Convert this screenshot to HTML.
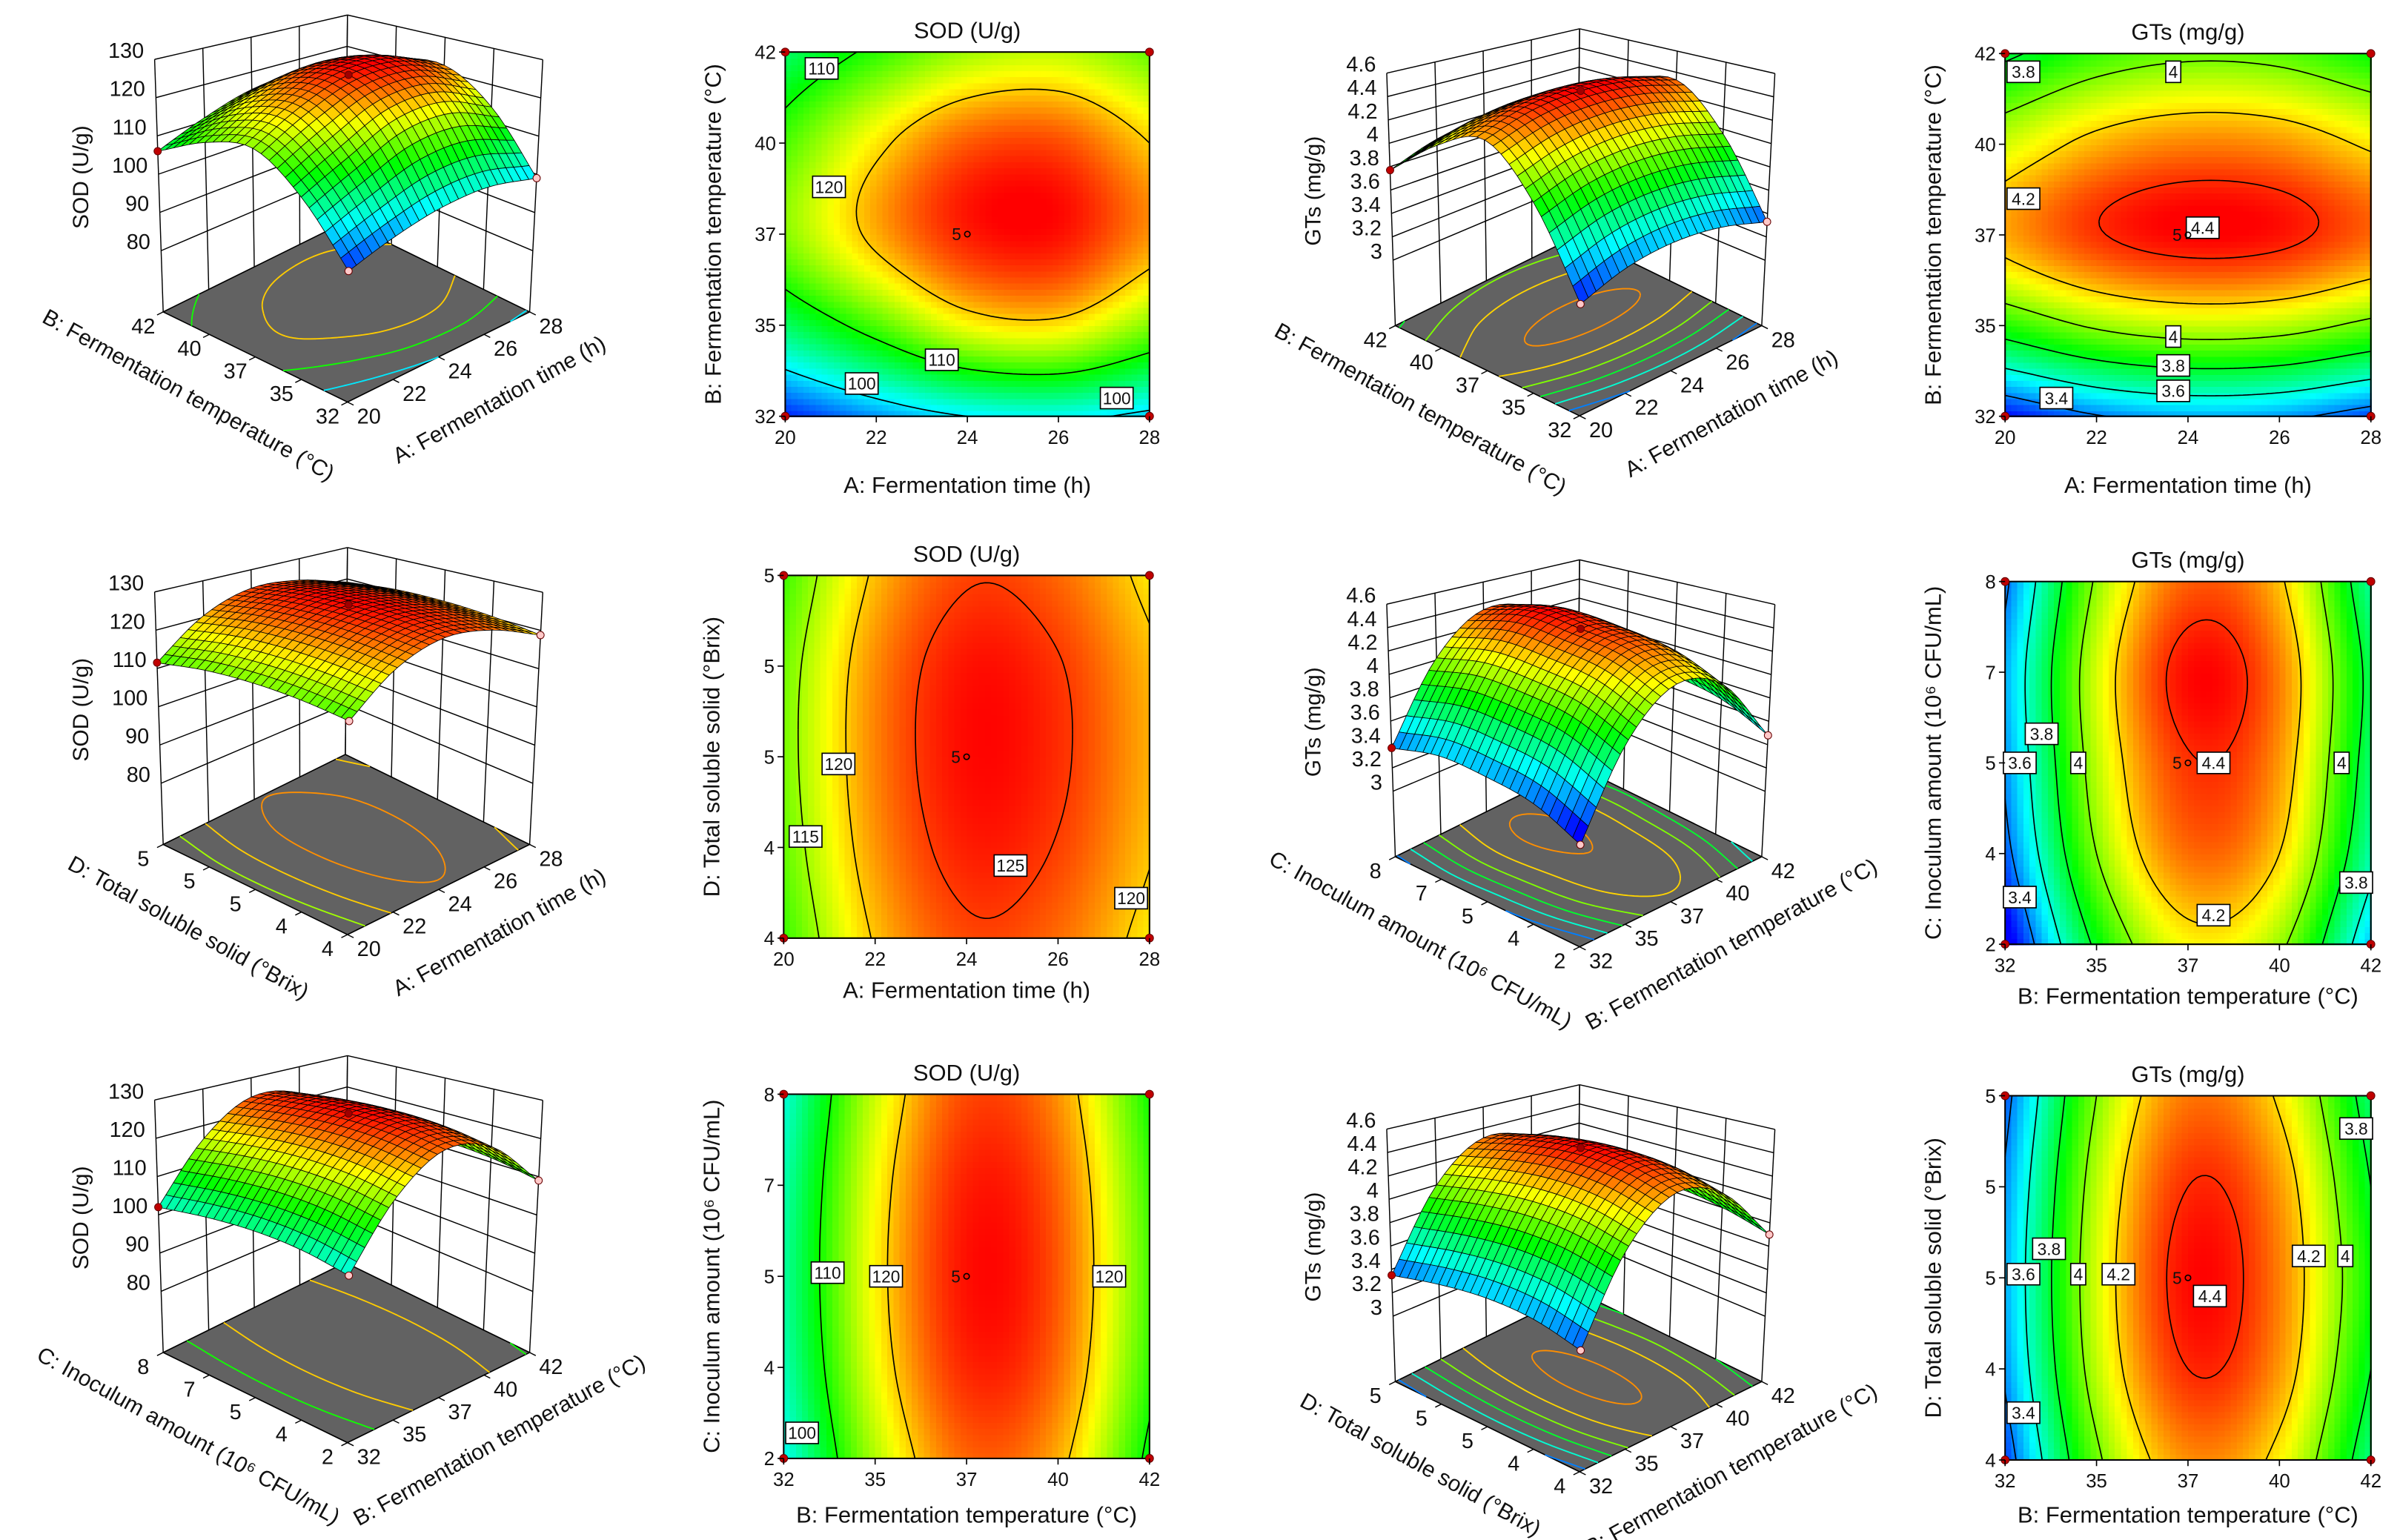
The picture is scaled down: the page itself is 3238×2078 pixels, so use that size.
<!DOCTYPE html>
<html><head><meta charset="utf-8"><title>Response surface plots</title>
<style>
html,body{margin:0;padding:0;background:#fff;}
svg{display:block;}
text{font-family:"Liberation Sans",Arial,sans-serif;fill:#111;}
.tk{font-family:"Liberation Sans Narrow","Liberation Sans",sans-serif;font-size:12.5px;}
.zt{font-family:"Liberation Sans Narrow","Liberation Sans",sans-serif;font-size:14px;}
.ax{font-size:15px;}
.ax3{font-size:14.5px;}
.cl{font-family:"Liberation Sans Narrow","Liberation Sans",sans-serif;font-size:11px;}
</style></head>
<body>
<svg id="fig" xmlns="http://www.w3.org/2000/svg" width="3238" height="2078" viewBox="0 0 1568 1006.3"></svg>
<script>
// ---------- data (grid rows: y from min to max; columns: x from min to max) ----------
const ticksA = ['20','22','24','26','28'];
const ticksB = ['32','35','37','40','42'];
const ticksC = ['2','4','5','7','8'];
const ticksD = ['4','4','5','5','5'];
const sodZTicks = [80,90,100,110,120,130];
const gtsZTicks = [3,3.2,3.4,3.6,3.8,4,4.2,4.4,4.6];

const sodABValues = [
  [93,97,100,101,99],
  [106,112,118,119,114],
  [114,121,126,126.5,122],
  [112,119,124,124.5,120],
  [106,111,115,116,113]
];
const sodADValues = [
  [111.3,120.3,124.5,123.3,118.8],
  [112.8,121.8,126,124.8,120.3],
  [113.5,122.5,126.7,125.5,121],
  [113.2,122.2,126.4,125.2,120.7],
  [111.5,120.5,124.7,123.5,119]
];
const sodBCValues = [
  [101,115.5,123.5,121,109],
  [103.2,117.7,125.7,123.2,111.2],
  [104,118.5,126.5,124,112],
  [103.5,118,126,123.5,111.5],
  [102,116.5,124.5,122,110]
];
const gtsABValues = [
  [3.25,3.39,3.45,3.43,3.33],
  [3.88,4.02,4.08,4.06,3.96],
  [4.25,4.39,4.45,4.43,4.33],
  [4.1,4.24,4.3,4.28,4.18],
  [3.77,3.91,3.97,3.95,3.85]
];
const gtsBCValues = [
  [3.18,3.83,4.15,4.03,3.48],
  [3.35,4.0,4.32,4.2,3.65],
  [3.42,4.07,4.39,4.27,3.72],
  [3.45,4.1,4.44,4.3,3.75],
  [3.37,4.02,4.34,4.22,3.67]
];
const gtsBDValues = [
  [3.32,3.97,4.28,4.16,3.7],
  [3.42,4.07,4.40,4.27,3.80],
  [3.45,4.10,4.44,4.30,3.85],
  [3.42,4.07,4.40,4.27,3.80],
  [3.35,4.0,4.31,4.18,3.72]
];
const sodABLevels = [100,110,120];
const sodADLevels = [115,120,125];
const sodBCLevels = [100,110,120];
const gtsLevels = [3.4,3.6,3.8,4,4.2,4.4];
// contour label placements [level, x(0-1), y(0-1)]
const sodABLabels = [[110,.1,.955],[120,.12,.63],[110,.43,.155],[100,.21,.09],[100,.91,.05]];
const gtsABLabels = [[3.8,.05,.95],[4,.46,.95],[4.2,.05,.6],[4.4,.54,.52],[4,.46,.22],[3.8,.46,.14],[3.6,.46,.07],[3.4,.14,.05]];
const sodADLabels = [[120,.15,.48],[115,.06,.28],[125,.62,.2],[120,.95,.11]];
const gtsBCLabels = [[3.6,.04,.5],[3.8,.1,.58],[4,.2,.5],[4.4,.57,.5],[4,.92,.5],[4.2,.57,.08],[3.8,.96,.17],[3.4,.04,.13]];
const sodBCLabels = [[110,.12,.51],[120,.28,.5],[120,.89,.5],[100,.05,.07]];
const gtsBDLabels = [[3.6,.05,.51],[3.8,.12,.58],[4,.2,.51],[4.2,.31,.51],[4.4,.56,.45],[4.2,.83,.56],[4,.93,.56],[3.8,.96,.91],[3.4,.05,.13]];

const T_A='A: Fermentation time (h)', T_B='B: Fermentation temperature (°C)',
      T_C='C: Inoculum amount (10⁶ CFU/mL)', T_D='D: Total soluble solid (°Brix)';

// ---------- helpers ----------
const NS='http://www.w3.org/2000/svg';
const svg=document.getElementById('fig');
function mk(tag,attrs,parent){const e=document.createElementNS(NS,tag);for(const k in attrs)e.setAttribute(k,attrs[k]);(parent||svg).appendChild(e);return e;}
function cmap(t){t=Math.max(0,Math.min(1,t));const st=[[0,0,255],[0,255,255],[0,255,0],[255,255,0],[255,0,0]];const s=t*4;let k=Math.floor(s);if(k>3)k=3;const f=s-k;const a=st[k],b=st[k+1];return 'rgb('+Math.round(a[0]+(b[0]-a[0])*f)+','+Math.round(a[1]+(b[1]-a[1])*f)+','+Math.round(a[2]+(b[2]-a[2])*f)+')';}
function interp1(p,t){const s=t*4;let k=Math.floor(s);if(k>3)k=3;if(k<0)k=0;const f=s-k;const g=i=>i<0?2*p[0]-p[1]:(i>4?2*p[4]-p[3]:p[i]);const p0=g(k-1),p1=g(k),p2=g(k+1),p3=g(k+2);return 0.5*(2*p1+(-p0+p2)*f+(2*p0-5*p1+4*p2-p3)*f*f+(-p0+3*p1-3*p2+p3)*f*f*f);}
function interp(grid,x,y){const col=grid.map(r=>interp1(r,x));return interp1(col,y);}
function sample(grid,N){const s=[];for(let i=0;i<=N;i++){s.push([]);for(let j=0;j<=N;j++)s[i].push(interp(grid,i/N,j/N));}return s;}
function segments(s,N,lv){const out=[];for(let i=0;i<N;i++)for(let j=0;j<N;j++){const c=[[i,j],[i+1,j],[i+1,j+1],[i,j+1]];const pts=[];for(let e=0;e<4;e++){const p=c[e],q=c[(e+1)%4];const a=s[p[0]][p[1]]-lv,b=s[q[0]][q[1]]-lv;if((a<0)!==(b<0)){const f=a/(a-b);pts.push([(p[0]+(q[0]-p[0])*f)/N,(p[1]+(q[1]-p[1])*f)/N]);}}if(pts.length>=2)out.push([pts[0],pts[1]]);if(pts.length===4)out.push([pts[2],pts[3]]);}return out;}

// ---------- contour plots ----------
const contours=[
 {key:'sod-time-temp',values:sodABValues,levels:sodABLevels,labels:sodABLabels,xt:ticksA,yt:ticksB,x0:513,y0:34,w:238,h:238,title:'SOD (U/g)',xTitle:T_A,yTitle:T_B,cmin:92,cmax:127,tdy:50},
 {key:'gts-time-temp',values:gtsABValues,levels:gtsLevels,labels:gtsABLabels,xt:ticksA,yt:ticksB,x0:1310,y0:35,w:239,h:237,title:'GTs (mg/g)',xTitle:T_A,yTitle:T_B,cmin:3.25,cmax:4.45,tdy:50},
 {key:'sod-time-tss',values:sodADValues,levels:sodADLevels,labels:sodADLabels,xt:ticksA,yt:ticksD,x0:512,y0:376,w:239,h:237,title:'SOD (U/g)',xTitle:T_A,yTitle:T_D,cmin:92,cmax:127,tdy:39},
 {key:'gts-temp-inoculum',values:gtsBCValues,levels:gtsLevels,labels:gtsBCLabels,xt:ticksB,yt:ticksC,x0:1310,y0:380,w:239,h:237,title:'GTs (mg/g)',xTitle:T_B,yTitle:T_C,cmin:3.25,cmax:4.45,tdy:39},
 {key:'sod-temp-inoculum',values:sodBCValues,levels:sodBCLevels,labels:sodBCLabels,xt:ticksB,yt:ticksC,x0:512,y0:715,w:239,h:238,title:'SOD (U/g)',xTitle:T_B,yTitle:T_C,cmin:92,cmax:127,tdy:42},
 {key:'gts-temp-tss',values:gtsBDValues,levels:gtsLevels,labels:gtsBDLabels,xt:ticksB,yt:ticksD,x0:1310,y0:716,w:239,h:238,title:'GTs (mg/g)',xTitle:T_B,yTitle:T_D,cmin:3.25,cmax:4.45,tdy:41}
];
contours.forEach(cp=>{
  const g=mk('g',{});
  
  
  const X=u=>cp.x0+u*cp.w, Y=v=>cp.y0+cp.h-v*cp.h;
  const N=60, cw=cp.w/N, ch=cp.h/N;
  const hm=mk('g',{'shape-rendering':'crispEdges'},g);
  
  
  for(let i=0;i<N;i++)for(let j=0;j<N;j++){
    const val=interp(cp.values,(i+.5)/N,(j+.5)/N);
    const r=mk('rect',{x:X(i/N).toFixed(2),y:Y((j+1)/N).toFixed(2),width:(cw+0.6).toFixed(2),height:(ch+0.6).toFixed(2),fill:cmap((val-cp.cmin)/(cp.cmax-cp.cmin))},hm);
    
    
  }
  const s=sample(cp.values,80);
  cp.levels.forEach(lv=>{
    const segs=segments(s,80,lv);
    let d='';segs.forEach(sg=>{d+='M'+X(sg[0][0]).toFixed(2)+' '+Y(sg[0][1]).toFixed(2)+'L'+X(sg[1][0]).toFixed(2)+' '+Y(sg[1][1]).toFixed(2);});
    const p=mk('path',{d:d,stroke:'#000','stroke-width':0.8,fill:'none'},g);
    
    
  });
  const fr=mk('rect',{x:cp.x0,y:cp.y0,width:cp.w,height:cp.h,fill:'none',stroke:'#000','stroke-width':1},g);
  
  
  cp.labels.forEach(lb=>{
    const txt=String(lb[0]);const bw=txt.length*5.8+4;
    const bx=X(lb[1]),by=Y(lb[2]);
    const lg=mk('g',{},g);
    
    
    mk('rect',{x:(bx-bw/2).toFixed(1),y:(by-7).toFixed(1),width:bw.toFixed(1),height:14,fill:'#fff',stroke:'#000','stroke-width':0.8},lg);
    const t=mk('text',{x:bx.toFixed(1),y:(by+4).toFixed(1),'text-anchor':'middle',class:'cl'},lg);t.textContent=txt;
  });
  [[0,0],[1,0],[0,1],[1,1]].forEach(c=>{const d=mk('circle',{cx:X(c[0]),cy:Y(c[1]),r:2.6,fill:'#c00000',stroke:'#600','stroke-width':0.5},g);
    
    });
  const cc=mk('circle',{cx:X(.5),cy:Y(.5),r:1.8,fill:'none',stroke:'#000','stroke-width':0.8},g);
  
  
  const ct=mk('text',{x:X(.5)-4,y:Y(.5)+4,'text-anchor':'end',class:'cl'},g);ct.textContent='5';
  for(let k=0;k<5;k++){
    const u=k/4;
    mk('line',{x1:X(u),y1:cp.y0+cp.h,x2:X(u),y2:cp.y0+cp.h+4,stroke:'#000','stroke-width':0.8},g);
    const tx=mk('text',{x:X(u),y:cp.y0+cp.h+18,'text-anchor':'middle',class:'tk'},g);tx.textContent=cp.xt[k];
    
    
    mk('line',{x1:cp.x0,y1:Y(u),x2:cp.x0-4,y2:Y(u),stroke:'#000','stroke-width':0.8},g);
    const ty=mk('text',{x:cp.x0-6,y:Y(u)+4.5,'text-anchor':'end',class:'tk'},g);ty.textContent=cp.yt[k];
    
    
  }
  const tt=mk('text',{x:cp.x0+cp.w/2,y:cp.y0-9,'text-anchor':'middle',class:'ax'},g);tt.textContent=cp.title;
  
  
  const xt=mk('text',{x:cp.x0+cp.w/2,y:cp.y0+cp.h+cp.tdy,'text-anchor':'middle',class:'ax'},g);xt.textContent=cp.xTitle;
  
  
  const yx=cp.x0-42, yy=cp.y0+cp.h/2;
  const yt=mk('text',{x:yx,y:yy,'text-anchor':'middle',class:'ax',transform:'rotate(-90 '+yx+' '+yy+')'},g);yt.textContent=cp.yTitle;
  
  
});

// ---------- 3D surface plots ----------
const baseF=[227,262.7],baseR=[346,203.8],baseL=[106.6,203.8],baseB=[225.6,145];
const topF=[228.6,68],topR=[354.6,39],topL=[101,38.8],topB=[227,9.8];
const surfaces=[
 {key:'sod-time-temp',values:sodABValues,levels:sodABLevels,xt:ticksA,yt:ticksB,zt:sodZTicks,zmin:64,zmax:130,dx:0,dy:0,xTitle:T_A,yTitle:T_B,zTitle:'SOD (U/g)',cmin:92,cmax:127},
 {key:'gts-time-temp',values:gtsABValues,levels:gtsLevels,xt:ticksA,yt:ticksB,zt:gtsZTicks,zmin:2.44,zmax:4.6,dx:805,dy:9,xTitle:T_A,yTitle:T_B,zTitle:'GTs (mg/g)',cmin:3.25,cmax:4.45},
 {key:'sod-time-tss',values:sodADValues,levels:sodADLevels,xt:ticksA,yt:ticksD,zt:sodZTicks,zmin:64,zmax:130,dx:0,dy:348,xTitle:T_A,yTitle:T_D,zTitle:'SOD (U/g)',cmin:92,cmax:127},
 {key:'gts-temp-inoculum',values:gtsBCValues,levels:gtsLevels,xt:ticksB,yt:ticksC,zt:gtsZTicks,zmin:2.44,zmax:4.6,dx:805,dy:356,xTitle:T_B,yTitle:T_C,zTitle:'GTs (mg/g)',cmin:3.25,cmax:4.45},
 {key:'sod-temp-inoculum',values:sodBCValues,levels:sodBCLevels,xt:ticksB,yt:ticksC,zt:sodZTicks,zmin:64,zmax:130,dx:0,dy:680,xTitle:T_B,yTitle:T_C,zTitle:'SOD (U/g)',cmin:92,cmax:127},
 {key:'gts-temp-tss',values:gtsBDValues,levels:gtsLevels,xt:ticksB,yt:ticksD,zt:gtsZTicks,zmin:2.44,zmax:4.6,dx:805,dy:699,xTitle:T_B,yTitle:T_D,zTitle:'GTs (mg/g)',cmin:3.25,cmax:4.45}
];
function bil(F,R,L,B,u,v){return [F[0]*(1-u)*(1-v)+R[0]*u*(1-v)+L[0]*(1-u)*v+B[0]*u*v, F[1]*(1-u)*(1-v)+R[1]*u*(1-v)+L[1]*(1-u)*v+B[1]*u*v];}
surfaces.forEach(sp=>{
  const g=mk('g',{});
  
  
  const P=(u,v,w)=>{const a=bil(baseF,baseR,baseL,baseB,u,v),b=bil(topF,topR,topL,topB,u,v);return [a[0]*(1-w)+b[0]*w+sp.dx,a[1]*(1-w)+b[1]*w+sp.dy];};
  const W=z=>(z-sp.zmin)/(sp.zmax-sp.zmin);
  const L=(p,q,attrs)=>mk('line',Object.assign({x1:p[0].toFixed(2),y1:p[1].toFixed(2),x2:q[0].toFixed(2),y2:q[1].toFixed(2),stroke:'#000','stroke-width':0.7},attrs||{}),g);
  sp.zt.forEach(z=>{const w=W(z);L(P(0,1,w),P(1,1,w));L(P(1,1,w),P(1,0,w));});
  for(let k=0;k<5;k++){const t=k/4;L(P(t,1,0),P(t,1,1));L(P(1,t,0),P(1,t,1));}
  const fl=[P(0,0,0),P(1,0,0),P(1,1,0),P(0,1,0)];
  const floor=mk('polygon',{points:fl.map(p=>p[0].toFixed(2)+','+p[1].toFixed(2)).join(' '),fill:'#626262',stroke:'#000','stroke-width':0.8},g);
  
  
  const s=sample(sp.values,60);
  sp.levels.forEach(lv=>{
    let d='';segments(s,60,lv).forEach(sg=>{const a=P(sg[0][0],sg[0][1],0),b=P(sg[1][0],sg[1][1],0);d+='M'+a[0].toFixed(2)+' '+a[1].toFixed(2)+'L'+b[0].toFixed(2)+' '+b[1].toFixed(2);});
    const p=mk('path',{d:d,fill:'none',stroke:cmap(Math.min(0.86,(lv-sp.cmin)/(sp.cmax-sp.cmin))),'stroke-width':0.9},g);
    
    
  });
  for(let k=0;k<5;k++){
    const t=k/4;
    const a=P(0,t,0);L(a,[a[0]-4,a[1]+2]);
    const ty=mk('text',{x:(a[0]-13).toFixed(1),y:(a[1]+14).toFixed(1),'text-anchor':'middle',class:'zt'},g);ty.textContent=sp.yt[k];
    
    
    const b=P(t,0,0);L(b,[b[0]+4,b[1]+2]);
    const tx=mk('text',{x:(b[0]+14).toFixed(1),y:(b[1]+14).toFixed(1),'text-anchor':'middle',class:'zt'},g);tx.textContent=sp.xt[k];
    
    
  }
  sp.zt.forEach(z=>{const p=P(0,1,W(z));const t=mk('text',{x:(p[0]-7).toFixed(1),y:(p[1]-1).toFixed(1),'text-anchor':'end',class:'zt'},g);t.textContent=String(z);
    
    });
  const M=24,vals=[];
  for(let i=0;i<=M;i++){vals.push([]);for(let j=0;j<=M;j++)vals[i].push(interp(sp.values,i/M,j/M));}
  const quads=[];for(let i=0;i<M;i++)for(let j=0;j<M;j++)quads.push([i,j]);
  quads.sort((a,b)=>(b[0]+b[1])-(a[0]+a[1]));
  const sg=mk('g',{'stroke-linejoin':'round'},g);
  
  
  quads.forEach(q=>{
    const i=q[0],j=q[1];
    const cs=[[i,j],[i+1,j],[i+1,j+1],[i,j+1]];
    const pts=cs.map(c=>P(c[0]/M,c[1]/M,W(vals[c[0]][c[1]])));
    const avg=(vals[i][j]+vals[i+1][j]+vals[i+1][j+1]+vals[i][j+1])/4;
    const poly=mk('polygon',{points:pts.map(p=>p[0].toFixed(2)+','+p[1].toFixed(2)).join(' '),fill:cmap((avg-sp.cmin)/(sp.cmax-sp.cmin)),stroke:'#000','stroke-width':0.4},sg);
    
    
  });
  [[.5,.5,'#a00000'],[0,1,'#c00000'],[1,0,'#ffc8c8'],[0,0,'#ffc8c8']].forEach(c=>{
    const p=P(c[0],c[1],W(interp(sp.values,c[0],c[1])));
    const d=mk('circle',{cx:p[0].toFixed(1),cy:p[1].toFixed(1),r:2.4,fill:c[2],stroke:'#600','stroke-width':0.5},g);
    
    
  });
  const lf=P(.5,0,0),ll=P(0,.5,0),lz=P(0,1,0);
  const lx=ll[0]-46,ly=ll[1]+29;
  const t1=mk('text',{x:lx.toFixed(1),y:ly.toFixed(1),'text-anchor':'middle',class:'ax3',transform:'rotate(29 '+lx.toFixed(1)+' '+ly.toFixed(1)+')'},g);t1.textContent=sp.yTitle;
  
  
  const rx=lf[0]+42,ry=lf[1]+32;
  const t2=mk('text',{x:rx.toFixed(1),y:ry.toFixed(1),'text-anchor':'middle',class:'ax3',transform:'rotate(-29 '+rx.toFixed(1)+' '+ry.toFixed(1)+')'},g);t2.textContent=sp.xTitle;
  
  
  const zx=lz[0]-49,zy=lz[1]-88;
  const t3=mk('text',{x:zx.toFixed(1),y:zy.toFixed(1),'text-anchor':'middle',class:'ax3',transform:'rotate(-90 '+zx.toFixed(1)+' '+zy.toFixed(1)+')'},g);t3.textContent=sp.zTitle;
  
  
});
</script>
</body></html>
